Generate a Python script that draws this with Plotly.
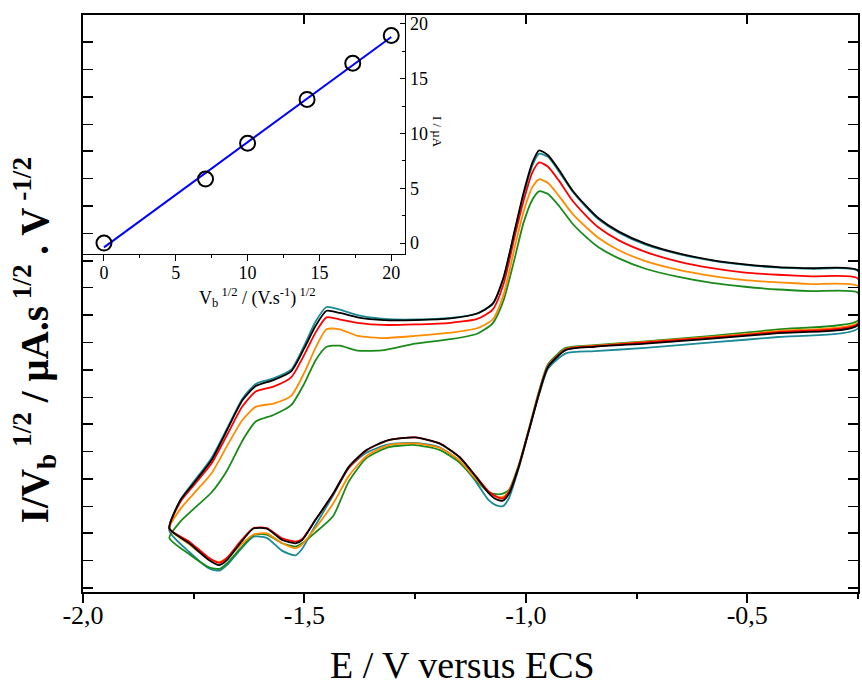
import numpy as np
import plotly.graph_objects as go

# ---------------- main CV data ----------------
E_up = [-1.805, -1.78, -1.75, -1.71, -1.675, -1.64, -1.61, -1.57, -1.53, -1.50, -1.475, -1.45, -1.42, -1.38,
        -1.32, -1.25, -1.17, -1.11, -1.075, -1.05, -1.025, -1.005, -0.985, -0.97, -0.95, -0.925, -0.895,
        -0.865, -0.835, -0.79, -0.73, -0.655, -0.58, -0.505, -0.43, -0.355, -0.25]
E_lo = [-0.25, -0.43, -0.58, -0.73, -0.845, -0.91, -0.95, -0.97, -0.993, -1.016, -1.038, -1.052, -1.068,
        -1.085, -1.113, -1.15, -1.195, -1.25, -1.31, -1.36, -1.40, -1.435, -1.475, -1.505, -1.52, -1.55,
        -1.585, -1.615, -1.645, -1.675, -1.692, -1.715, -1.76, -1.805]

black_up = [1.09, 1.61, 1.92, 2.34, 2.89, 3.44, 3.70, 3.81, 3.97, 4.40, 4.80, 5.08, 5.04, 4.96, 4.91, 4.91, 4.94,
            5.03, 5.21, 5.70, 6.56, 7.25, 7.80, 8.02, 7.93, 7.66, 7.29, 7.01, 6.77, 6.53, 6.31, 6.13, 6.01,
            5.93, 5.88, 5.86, 5.82]
teal_up = [1.05, 1.62, 1.95, 2.38, 2.92, 3.47, 3.74, 3.84, 4.00, 4.45, 4.88, 5.15, 5.10, 5.00, 4.93, 4.92, 4.95,
           5.03, 5.20, 5.70, 6.55, 7.20, 7.75, 7.96, 7.90, 7.63, 7.27, 6.99, 6.75, 6.51, 6.29, 6.12, 6.00,
           5.92, 5.87, 5.85, 5.81]
red_up = [1.09, 1.58, 1.88, 2.28, 2.80, 3.33, 3.60, 3.69, 3.86, 4.28, 4.68, 4.96, 4.92, 4.86, 4.82, 4.83, 4.86,
          4.93, 5.10, 5.58, 6.45, 7.10, 7.62, 7.80, 7.72, 7.46, 7.10, 6.83, 6.60, 6.37, 6.16, 5.98, 5.86,
          5.78, 5.74, 5.71, 5.67]
orange_up = [1.09, 1.45, 1.73, 2.10, 2.60, 3.08, 3.32, 3.38, 3.52, 3.95, 4.40, 4.74, 4.74, 4.62, 4.58, 4.62,
             4.68, 4.76, 4.92, 5.38, 6.25, 6.90, 7.35, 7.49, 7.42, 7.18, 6.86, 6.62, 6.41, 6.19, 5.99, 5.83,
             5.72, 5.64, 5.60, 5.57, 5.53]
green_up = [0.92, 1.22, 1.45, 1.75, 2.15, 2.70, 3.05, 3.17, 3.35, 3.75, 4.17, 4.42, 4.44, 4.35, 4.36, 4.48,
            4.56, 4.66, 4.85, 5.28, 6.05, 6.70, 7.12, 7.27, 7.22, 7.00, 6.68, 6.44, 6.24, 6.04, 5.85, 5.70,
            5.59, 5.52, 5.47, 5.44, 5.41]

black_lo = [4.82, 4.67, 4.57, 4.48, 4.42, 4.36, 4.05, 3.57, 2.89, 2.22, 1.73, 1.60, 1.63, 1.75, 2.04, 2.40,
            2.65, 2.76, 2.71, 2.53, 2.22, 1.73, 1.25, 0.88, 0.82, 0.88, 1.09, 1.09, 0.82, 0.51, 0.42, 0.51,
            0.82, 1.09]
teal_lo = [4.76, 4.60, 4.50, 4.40, 4.34, 4.30, 4.02, 3.55, 2.88, 2.20, 1.65, 1.50, 1.52, 1.62, 1.95, 2.33,
           2.58, 2.66, 2.63, 2.48, 2.20, 1.70, 1.15, 0.72, 0.60, 0.68, 0.92, 0.94, 0.70, 0.42, 0.32, 0.36,
           0.66, 1.05]
red_lo = [4.84, 4.69, 4.59, 4.50, 4.43, 4.37, 4.06, 3.58, 2.90, 2.23, 1.76, 1.64, 1.68, 1.78, 2.05, 2.40,
          2.65, 2.76, 2.71, 2.52, 2.20, 1.72, 1.25, 0.90, 0.85, 0.91, 1.10, 1.10, 0.85, 0.55, 0.46, 0.55,
          0.85, 1.09]
orange_lo = [4.86, 4.71, 4.60, 4.51, 4.44, 4.38, 4.07, 3.58, 2.90, 2.23, 1.78, 1.67, 1.68, 1.76, 2.00, 2.34,
             2.57, 2.65, 2.62, 2.42, 2.05, 1.55, 1.10, 0.80, 0.73, 0.82, 1.00, 0.98, 0.78, 0.55, 0.48, 0.52,
             0.80, 1.09]
green_lo = [4.90, 4.74, 4.62, 4.52, 4.45, 4.40, 4.10, 3.62, 2.92, 2.26, 1.80, 1.73, 1.72, 1.76, 1.98, 2.30,
            2.53, 2.62, 2.58, 2.38, 1.95, 1.32, 1.02, 0.82, 0.76, 0.82, 0.98, 0.97, 0.72, 0.45, 0.35, 0.38,
            0.62, 0.92]

# ---------------- inset data ----------------
sqrt_v = [0, 7.07, 10.0, 14.14, 17.32, 20.0]
current = [0.0, 5.84, 9.1, 13.1, 16.4, 18.93]

x_tickvals = [-2.0, -1.5, -1.0, -0.5]
x_ticktext = ["-2,0", "-1,5", "-1,0", "-0,5"]
inset_ticks = [0, 5, 10, 15, 20]

FONT = "Liberation Serif"
W, H = 862, 689
L, R, T, B = 83, 2, 15, 97
pw, ph = W - L - R, H - T - B


def px2paper_x(px):
    return (px - L) / pw


def py2paper_y(py):
    return (H - B - py) / ph


fig = go.Figure()

curves = [
    ("teal", "#1b8a96", teal_up, teal_lo),
    ("green", "#1a8a1a", green_up, green_lo),
    ("orange", "#ff8c00", orange_up, orange_lo),
    ("red", "#ff0000", red_up, red_lo),
    ("black", "#000000", black_up, black_lo),
]
for name, col, yu, yl in curves:
    fig.add_trace(go.Scatter(x=E_up + E_lo, y=yu + yl, mode="lines", name=name,
                             line=dict(color=col, width=1.8, shape="spline", smoothing=0.6),
                             showlegend=False, hoverinfo="skip"))

# dummy trace for the top tick axis
fig.add_trace(go.Scatter(x=[None], y=[None], xaxis="x3", yaxis="y", showlegend=False, hoverinfo="skip"))

# inset fit line
coef = np.polyfit(sqrt_v, current, 1)
fit_x = [min(sqrt_v), max(sqrt_v)]
fit_y = [coef[0] * v + coef[1] for v in fit_x]
fig.add_trace(go.Scatter(x=fit_x, y=fit_y, mode="lines", xaxis="x2", yaxis="y2",
                         line=dict(color="#0000ff", width=2), showlegend=False, hoverinfo="skip"))
fig.add_trace(go.Scatter(x=sqrt_v, y=current, mode="markers", xaxis="x2", yaxis="y2",
                         marker=dict(symbol="circle-open", size=15, color="black", line=dict(width=2)),
                         showlegend=False, hoverinfo="skip"))

inset_right = px2paper_x(406)
inset_bottom = py2paper_y(254)

fig.update_layout(
    width=W, height=H,
    margin=dict(l=L, r=R, t=T, b=B),
    paper_bgcolor="white", plot_bgcolor="rgba(0,0,0,0)",
    font=dict(family=FONT, color="black"),
    xaxis=dict(range=[-2.0, -0.25], domain=[0, 1], anchor="y",
               tickvals=x_tickvals, ticktext=x_ticktext,
               ticks="outside", ticklen=9, tickwidth=1.5, tickcolor="black",
               minor=dict(ticks="outside", ticklen=5, dtick=0.25, tick0=-2.0, tickwidth=1.5, tickcolor="black"),
               showline=True, linecolor="black", linewidth=1.8, mirror=True,
               showgrid=False, zeroline=False,
               tickfont=dict(size=26, family=FONT), ticklabelstandoff=-10),
    xaxis3=dict(range=[-2.0, -0.25], overlaying="x", side="top", anchor="y",
                tickvals=x_tickvals, showticklabels=False,
                ticks="inside", ticklen=9, tickwidth=1.5, tickcolor="black",
                showline=False, showgrid=False, zeroline=False),
    yaxis=dict(range=[-0.073, 10.5], domain=[0, 1], anchor="x",
               dtick=1, tick0=0, showticklabels=False,
               ticks="inside", ticklen=10, tickwidth=1.5, tickcolor="black",
               minor=dict(ticks="inside", ticklen=4, dtick=0.5, tick0=0, tickwidth=1.2, tickcolor="black"),
               showline=True, linecolor="black", linewidth=1.8, mirror="allticks",
               showgrid=False, zeroline=False),
    xaxis2=dict(range=[-1.46, 20.97], domain=[0, inset_right], anchor="y2",
                tickvals=inset_ticks, ticks="outside", ticklen=6, tickwidth=1.2, tickcolor="black",
                minor=dict(ticks="outside", ticklen=3, dtick=2.5, tick0=0, tickwidth=1.2, tickcolor="black"),
                showline=True, linecolor="black", linewidth=1.3, mirror=True,
                showgrid=False, zeroline=False, tickfont=dict(size=18, family=FONT),
                ticklabelstandoff=-4),
    yaxis2=dict(range=[-1.0, 20.8], domain=[inset_bottom, 1], anchor="x2", side="right",
                tickvals=inset_ticks, ticks="inside", ticklen=5, tickwidth=1.2, tickcolor="black",
                minor=dict(ticks="inside", ticklen=3, dtick=2.5, tick0=0, tickwidth=1.2, tickcolor="black"),
                showline=True, linecolor="black", linewidth=1.3, mirror=True,
                showgrid=False, zeroline=False, tickfont=dict(size=18, family=FONT)),
    annotations=[
        dict(text="E / V versus ECS", xref="paper", yref="paper",
             x=px2paper_x(463), y=py2paper_y(665), showarrow=False,
             font=dict(size=38, family=FONT), xanchor="center", yanchor="middle"),
        dict(text="<b>I/V<sub>b</sub><sup> 1/2</sup> / µA.s<sup> 1/2</sup> . V<sup> -1/2</sup></b>",
             xref="paper", yref="paper", x=px2paper_x(34), y=py2paper_y(340),
             showarrow=False, textangle=-90, font=dict(size=39, family=FONT),
             xanchor="center", yanchor="middle"),
        dict(text="V<sub>b</sub><sup> 1/2</sup> / (V.s<sup>-1</sup>)<sup> 1/2</sup>",
             xref="paper", yref="paper", x=px2paper_x(257), y=py2paper_y(297),
             showarrow=False, font=dict(size=18, family=FONT), xanchor="center", yanchor="middle"),
        dict(text="I / µA", xref="paper", yref="paper", x=px2paper_x(438), y=py2paper_y(132),
             showarrow=False, textangle=90, font=dict(size=13, family=FONT),
             xanchor="center", yanchor="middle"),
    ],
)

fig.write_html(
    "out.html",
    config={"displayModeBar": False},
    post_script="document.body.style.margin='0';document.body.style.padding='0';"
                "document.body.style.overflow='hidden';",
)
